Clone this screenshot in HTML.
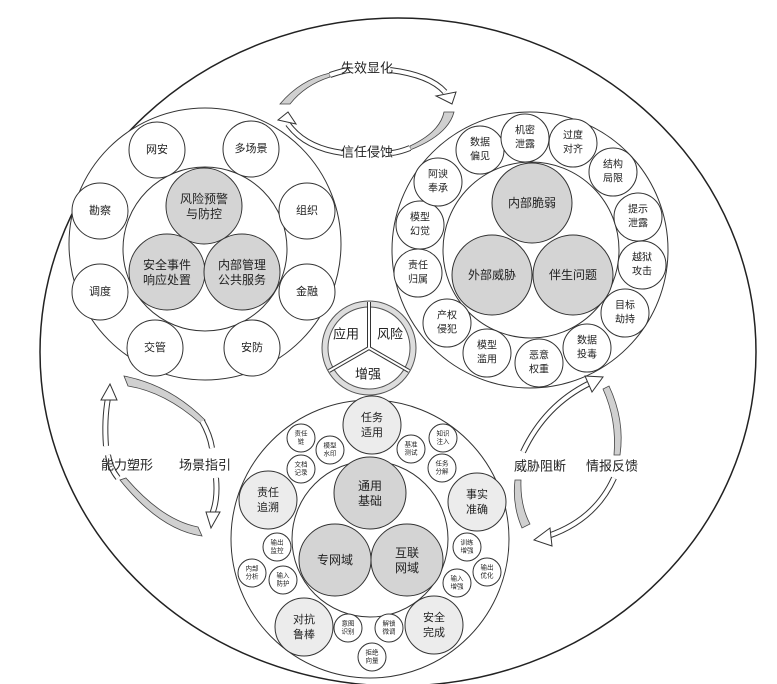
<!DOCTYPE html>
<html><head><meta charset="utf-8"><style>
html,body{margin:0;padding:0;background:#fff;}
svg{display:block;}
text{font-family:"Liberation Sans","Noto Sans CJK SC",sans-serif;fill:#222;text-anchor:middle;dominant-baseline:central;}
.c{fill:#fff;stroke:#333;stroke-width:1;}
.g{fill:#d4d4d4;stroke:#333;stroke-width:1;}
.l{fill:#ececec;stroke:#333;stroke-width:1;}
.band1{fill:none;stroke:#333;stroke-width:6;}
.band2{fill:none;stroke:#fff;stroke-width:4;}
.tail{fill:#d0d0d0;stroke:#444;stroke-width:0.8;}
.ah{fill:#fff;stroke:#333;stroke-width:1;}
</style></head><body>
<svg width="777" height="684" viewBox="0 0 777 684" xmlns="http://www.w3.org/2000/svg">
<ellipse cx="398" cy="352" rx="358" ry="334" fill="none" stroke="#222" stroke-width="1.5"/>

<!-- top arrows -->
<path class="tail" d="M280,104 Q300,80 330,73 L330,77 Q305,85 290,104 Z"/>
<path class="band1" d="M330,75 Q345,70 350,70"/><path class="band2" d="M330,75 Q345,70 350,70"/>
<path class="band1" d="M390,70 Q430,75 445,92"/><path class="band2" d="M390,70 Q430,75 445,92"/>
<polygon class="ah" points="436,96 456,92 452,104"/>
<path class="tail" d="M454,112 Q448,135 410,150 L410,146 Q440,132 444,112 Z"/>
<path class="band1" d="M410,148 Q400,152 392,153"/><path class="band2" d="M410,148 Q400,152 392,153"/>
<path class="band1" d="M343,153 Q305,148 288,124"/><path class="band2" d="M343,153 Q305,148 288,124"/>
<polygon class="ah" points="278,120 288,112 296,124"/>
<text x="367" y="68" font-size="13">失效显化</text>
<text x="367" y="152" font-size="13">信任侵蚀</text>

<!-- top-left cluster -->
<circle class="c" cx="205" cy="244" r="136"/>
<circle class="c" cx="205" cy="249" r="82"/>
<circle class="g" cx="204" cy="206" r="38"/>
<circle class="g" cx="167" cy="272" r="38"/>
<circle class="g" cx="242" cy="272" r="38"/>
<text x="204" y="199" font-size="12">风险预警</text><text x="204" y="214" font-size="12">与防控</text>
<text x="167" y="265" font-size="12">安全事件</text><text x="167" y="280" font-size="12">响应处置</text>
<text x="242" y="265" font-size="12">内部管理</text><text x="242" y="280" font-size="12">公共服务</text>
<g font-size="11">
<circle class="c" cx="157" cy="150" r="28"/><text x="157" y="150">网安</text>
<circle class="c" cx="251" cy="149" r="28"/><text x="251" y="149">多场景</text>
<circle class="c" cx="100" cy="211" r="28"/><text x="100" y="211">勘察</text>
<circle class="c" cx="307" cy="211" r="28"/><text x="307" y="211">组织</text>
<circle class="c" cx="100" cy="292" r="28"/><text x="100" y="292">调度</text>
<circle class="c" cx="307" cy="292" r="28"/><text x="307" y="292">金融</text>
<circle class="c" cx="155" cy="348" r="28"/><text x="155" y="348">交管</text>
<circle class="c" cx="252" cy="348" r="28"/><text x="252" y="348">安防</text>
</g>

<!-- top-right cluster -->
<circle class="c" cx="530" cy="250" r="138"/>
<circle class="c" cx="531" cy="250" r="88"/>
<circle class="g" cx="532" cy="203" r="40"/>
<circle class="g" cx="492" cy="275" r="40"/>
<circle class="g" cx="573" cy="275" r="40"/>
<text x="532" y="203" font-size="12">内部脆弱</text>
<text x="492" y="275" font-size="12">外部威胁</text>
<text x="573" y="275" font-size="12">伴生问题</text>
<g font-size="10">
<circle class="c" cx="480" cy="150" r="24"/><text x="480" y="143">数据</text><text x="480" y="157">偏见</text>
<circle class="c" cx="525" cy="138" r="24"/><text x="525" y="131">机密</text><text x="525" y="145">泄露</text>
<circle class="c" cx="573" cy="143" r="24"/><text x="573" y="136">过度</text><text x="573" y="150">对齐</text>
<circle class="c" cx="613" cy="172" r="24"/><text x="613" y="165">结构</text><text x="613" y="179">局限</text>
<circle class="c" cx="638" cy="217" r="24"/><text x="638" y="210">提示</text><text x="638" y="224">泄露</text>
<circle class="c" cx="642" cy="265" r="24"/><text x="642" y="258">越狱</text><text x="642" y="272">攻击</text>
<circle class="c" cx="625" cy="313" r="24"/><text x="625" y="306">目标</text><text x="625" y="320">劫持</text>
<circle class="c" cx="587" cy="348" r="24"/><text x="587" y="341">数据</text><text x="587" y="355">投毒</text>
<circle class="c" cx="539" cy="363" r="24"/><text x="539" y="356">恶意</text><text x="539" y="370">权重</text>
<circle class="c" cx="487" cy="353" r="24"/><text x="487" y="346">模型</text><text x="487" y="360">滥用</text>
<circle class="c" cx="447" cy="323" r="24"/><text x="447" y="316">产权</text><text x="447" y="330">侵犯</text>
<circle class="c" cx="418" cy="273" r="24"/><text x="418" y="266">责任</text><text x="418" y="280">归属</text>
<circle class="c" cx="420" cy="225" r="24"/><text x="420" y="218">模型</text><text x="420" y="232">幻觉</text>
<circle class="c" cx="438" cy="182" r="24"/><text x="438" y="175">阿谀</text><text x="438" y="189">奉承</text>
</g>

<!-- center triad -->
<circle cx="369" cy="348" r="44" fill="none" stroke="#555" stroke-width="7"/>
<circle cx="369" cy="348" r="44" fill="none" stroke="#ddd" stroke-width="5"/>
<g stroke="#333" stroke-width="4" fill="none">
<line x1="369" y1="348" x2="369" y2="302"/><line x1="369" y1="348" x2="329" y2="371"/><line x1="369" y1="348" x2="409" y2="371"/>
</g>
<g stroke="#fff" stroke-width="2" fill="none">
<line x1="369" y1="348" x2="369" y2="302"/><line x1="369" y1="348" x2="329" y2="371"/><line x1="369" y1="348" x2="409" y2="371"/>
</g>
<text x="346" y="334" font-size="13">应用</text>
<text x="390" y="334" font-size="13">风险</text>
<text x="368" y="374" font-size="13">增强</text>

<!-- left arrows -->
<path class="tail" d="M124,376 Q170,385 205,420 L200,423 Q165,392 128,386 Z"/>
<path class="band1" d="M202,421 Q210,435 212,448"/><path class="band2" d="M202,421 Q210,435 212,448"/>
<path class="band1" d="M216,478 Q218,500 212,514"/><path class="band2" d="M216,478 Q218,500 212,514"/>
<polygon class="ah" points="206,512 220,512 211,528"/>
<path class="tail" d="M202,536 Q160,530 120,480 L126,478 Q162,520 198,527 Z"/>
<path class="band1" d="M118,478 Q110,468 108,455"/><path class="band2" d="M118,478 Q110,468 108,455"/>
<path class="band1" d="M106,446 Q104,420 108,398"/><path class="band2" d="M106,446 Q104,420 108,398"/>
<polygon class="ah" points="101,400 117,400 110,384"/>
<text x="127" y="465" font-size="13">能力塑形</text>
<text x="205" y="465" font-size="13">场景指引</text>

<!-- right arrows -->
<path class="tail" d="M609,386 Q625,420 620,455 L614,455 Q617,420 603,389 Z"/>
<path class="band1" d="M614,478 Q595,520 548,536"/><path class="band2" d="M614,478 Q595,520 548,536"/>
<polygon class="ah" points="550,528 552,546 534,540"/>
<path class="tail" d="M522,528 Q512,505 515,480 L521,480 Q520,505 530,524 Z"/>
<path class="band1" d="M523,452 Q545,405 590,383"/><path class="band2" d="M523,452 Q545,405 590,383"/>
<polygon class="ah" points="585,376 603,377 592,392"/>
<text x="540" y="466" font-size="13">威胁阻断</text>
<text x="612" y="466" font-size="13">情报反馈</text>

<!-- bottom cluster -->
<circle class="c" cx="370" cy="539" r="139"/>
<circle class="c" cx="370" cy="539" r="78"/>
<circle class="g" cx="370" cy="493" r="36"/>
<circle class="g" cx="335" cy="560" r="36"/>
<circle class="g" cx="407" cy="560" r="36"/>
<text x="370" y="486" font-size="12">通用</text><text x="370" y="501" font-size="12">基础</text>
<text x="335" y="560" font-size="12">专网域</text>
<text x="407" y="553" font-size="12">互联</text><text x="407" y="568" font-size="12">网域</text>
<g font-size="11">
<circle class="l" cx="372" cy="425" r="29"/><text x="372" y="418">任务</text><text x="372" y="433">适用</text>
<circle class="l" cx="268" cy="500" r="29"/><text x="268" y="493">责任</text><text x="268" y="508">追溯</text>
<circle class="l" cx="477" cy="502" r="29"/><text x="477" y="495">事实</text><text x="477" y="510">准确</text>
<circle class="l" cx="304" cy="627" r="29"/><text x="304" y="620">对抗</text><text x="304" y="635">鲁棒</text>
<circle class="l" cx="434" cy="625" r="29"/><text x="434" y="618">安全</text><text x="434" y="633">完成</text>
</g>
<g font-size="6.5">
<circle class="c" cx="301" cy="438" r="14"/><text x="301" y="434">责任</text><text x="301" y="442">链</text>
<circle class="c" cx="330" cy="450" r="14"/><text x="330" y="446">模型</text><text x="330" y="454">水印</text>
<circle class="c" cx="301" cy="469" r="14"/><text x="301" y="465">文档</text><text x="301" y="473">记录</text>
<circle class="c" cx="411" cy="449" r="14"/><text x="411" y="445">基准</text><text x="411" y="453">测试</text>
<circle class="c" cx="443" cy="438" r="14"/><text x="443" y="434">知识</text><text x="443" y="442">注入</text>
<circle class="c" cx="442" cy="468" r="14"/><text x="442" y="464">任务</text><text x="442" y="472">分解</text>
<circle class="c" cx="277" cy="547" r="14"/><text x="277" y="543">输出</text><text x="277" y="551">监控</text>
<circle class="c" cx="252" cy="573" r="14"/><text x="252" y="569">内部</text><text x="252" y="577">分析</text>
<circle class="c" cx="283" cy="580" r="14"/><text x="283" y="576">输入</text><text x="283" y="584">防护</text>
<circle class="c" cx="467" cy="547" r="14"/><text x="467" y="543">训练</text><text x="467" y="551">增强</text>
<circle class="c" cx="487" cy="572" r="14"/><text x="487" y="568">输出</text><text x="487" y="576">优化</text>
<circle class="c" cx="457" cy="583" r="14"/><text x="457" y="579">输入</text><text x="457" y="587">增强</text>
<circle class="c" cx="348" cy="628" r="14"/><text x="348" y="624">意图</text><text x="348" y="632">识别</text>
<circle class="c" cx="389" cy="628" r="14"/><text x="389" y="624">解锁</text><text x="389" y="632">微调</text>
<circle class="c" cx="372" cy="657" r="14"/><text x="372" y="653">拒绝</text><text x="372" y="661">向量</text>
</g>
</svg>
</body></html>
